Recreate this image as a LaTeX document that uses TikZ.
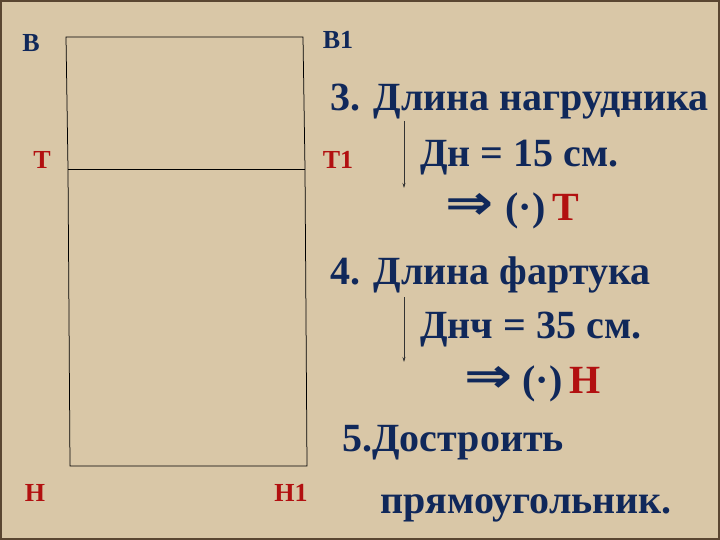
\documentclass[tikz,border=0pt]{standalone}
\usepackage{fontspec}
\setmainfont{Liberation Serif}
\newfontfamily\arrowfont{DejaVu Sans}
\usetikzlibrary{arrows.meta}
\definecolor{paper}{RGB}{217,199,167}
\definecolor{frame}{RGB}{90,70,50}
\definecolor{navy}{RGB}{16,40,90}
\definecolor{darkred}{RGB}{178,16,16}
\tikzset{every picture/.style={line width=0.75pt}}
\tikzset{
  pointlbl/.style={font=\bfseries\fontsize{26}{28}\selectfont, inner sep=0pt},
  steptext/.style={font=\bfseries\fontsize{40}{44}\selectfont, text=navy, inner sep=0pt, anchor=west},
  downarrow/.style={-{Stealth[length=5pt,width=3pt]}, line width=0.6pt, black!80}
}
\newcommand{\impl}{\raisebox{1pt}{\scalebox{1.25}[1.05]{\arrowfont\bfseries\fontsize{46}{48}\selectfont ⇒}}}

\begin{document}
\begin{tikzpicture}[x=1pt,y=-1pt]
%set diagram: 720 x 540
\fill[paper] (0,0) rectangle (720,540);
\draw[frame, line width=2pt] (1,1) rectangle (719,539);
\useasboundingbox (0,0) rectangle (720,540);

% Rectangle of the pattern
\coordinate (b) at (66,37);
\coordinate (b1) at (303,37);
\coordinate (t) at (68,169);
\coordinate (t1) at (305,169);
\coordinate (h) at (70,466);
\coordinate (h1) at (307,466);
\draw (b) -- (b1) -- (t1) -- (h1) -- (h) -- (t) -- cycle;
\draw (t) -- (t1);

% Point labels
\node[pointlbl, text=navy] (lb) at (31,43) {В};
\node[pointlbl, text=navy] (lb1) at (338,40) {В1};
\node[pointlbl, text=darkred] (lt) at (42,160) {Т};
\node[pointlbl, text=darkred] (lt1) at (338,160) {Т1};
\node[pointlbl, text=darkred] (lh) at (35,493) {Н};
\node[pointlbl, text=darkred] (lh1) at (291,493) {Н1};

% Step 3
\node[steptext] (s3) at (330,102) {3. Длина нагрудника};
\node[steptext] (dn) at (420,158) {Дн = 15 см.};
\node[steptext] (pt) at (445,211) {\impl\hspace{12pt}(\textperiodcentered)\hspace{7pt}\textcolor{darkred}{Т}};
\coordinate (a3s) at (404,121);
\coordinate (a3e) at (404,188);
\draw[downarrow] (a3s) -- (a3e);

% Step 4
\node[steptext] (s4) at (330,275) {4. Длина фартука};
\node[steptext] (dnch) at (420,330) {Днч = 35 см.};
\node[steptext] (ph) at (464,384) {\impl\hspace{10pt}(\textperiodcentered)\hspace{7pt}\textcolor{darkred}{Н}};
\coordinate (a4s) at (404,297);
\coordinate (a4e) at (404,362);
\draw[downarrow] (a4s) -- (a4e);

% Step 5
\node[steptext] (s5) at (342,443) {5.Достроить};
\node[steptext] (s5b) at (380,508) {прямоугольник.};

\end{tikzpicture}
\end{document}
